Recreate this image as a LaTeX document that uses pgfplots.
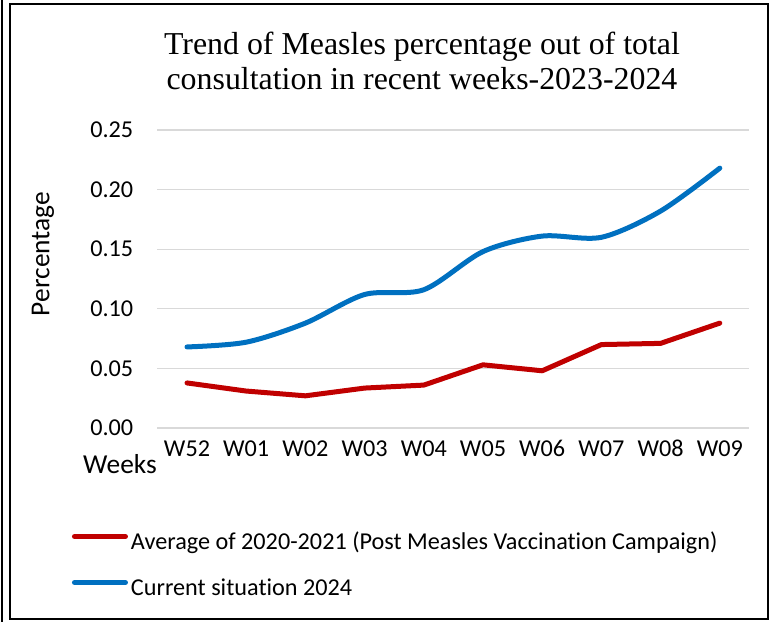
\documentclass[border=0pt]{standalone}
\usepackage{fontspec}
\setmainfont{Carlito}[Ligatures=NoCommon]
\newfontfamily\titlefont{Liberation Serif}
\usepackage{pgfplots}
\pgfplotsset{compat=1.18}
\definecolor{redline}{HTML}{C00000}
\definecolor{blueline}{HTML}{0070C0}
\definecolor{gridgray}{HTML}{D9D9D9}
\newcommand{\lbl}{\fontsize{24.3}{29}\selectfont}
\newcommand{\ttl}{\fontsize{27.5}{32}\selectfont}
\begin{document}
\begin{tikzpicture}
\begin{axis}[
  name=ax, anchor=south west,
  scale only axis, width=592bp, height=298bp,
  xmin=-0.5, xmax=9.5, ymin=0, ymax=0.25,
  xtick={0,...,9},
  xticklabels={W52,W01,W02,W03,W04,W05,W06,W07,W08,W09},
  ytick={0,0.05,0.1,0.15,0.2,0.25},
  /pgf/number format/assume math mode=true,
  yticklabel style={/pgf/number format/fixed, /pgf/number format/fixed zerofill, /pgf/number format/precision=2, anchor=east, inner sep=0pt, xshift=-24bp},
  ticklabel style={font=\lbl},
  xticklabel style={anchor=north, inner sep=0pt, text height=15.6bp, text depth=0pt, yshift=-13bp},
  axis line style={draw=none},
  tick style={draw=none},
  ymajorgrids,
  major grid style={color=gridgray, line width=1.3bp},
  legend cell align=left,
  legend image code/.code={\draw[#1, line width=5bp, line cap=round] (2.5bp,6.5bp) -- (53.5bp,6.5bp);},
  legend style={at={(-0.1443,-0.349)}, anchor=north west, draw=none, fill=none,
    inner sep=0pt, outer sep=0pt, row sep=24bp, column sep=3bp,
    font=\lbl,
    nodes={inner sep=0pt, text height=17bp, text depth=5bp}},
]
\addplot[redline, line width=5bp, line cap=round, line join=round] coordinates {
(0,0.0378) (1,0.031) (2,0.027) (3,0.0335) (4,0.036) (5,0.053) (6,0.048) (7,0.070) (8,0.071) (9,0.088)};
\addlegendentry{Average of 2020-2021 (Post Measles Vaccination Campaign)}
\addplot[blueline, line width=5bp, line cap=round, smooth, tension=0.5] coordinates {
(0,0.068) (1,0.072) (2,0.088) (3,0.112) (4,0.116) (5,0.148) (6,0.161) (7,0.160) (8,0.182) (9,0.218)};
\addlegendentry{Current situation 2024}
\end{axis}
\begin{scope}[shift={(ax.south west)}]
\begin{scope}[x=1bp, y=1bp, shift={(-157.4bp,428bp)}]
\path[use as bounding box] (0,0) rectangle (773,-622);
\draw[line width=2bp] (10,-4) rectangle (768,-619);
\draw[line width=2bp] (2,0) -- (2,-622);
\node[anchor=base, font=\titlefont\fontsize{32}{38}\selectfont] at (422,-55) {Trend of Measles percentage out of total};
\node[anchor=base, font=\titlefont\fontsize{32}{38}\selectfont] at (422,-90) {consultation in recent weeks-2023-2024};
\node[rotate=90, font=\ttl] at (43,-254) {Percentage};
\node[anchor=east, inner sep=0pt, font=\ttl] at (157,-464) {Weeks};
\end{scope}
\end{scope}
\end{tikzpicture}
\end{document}
